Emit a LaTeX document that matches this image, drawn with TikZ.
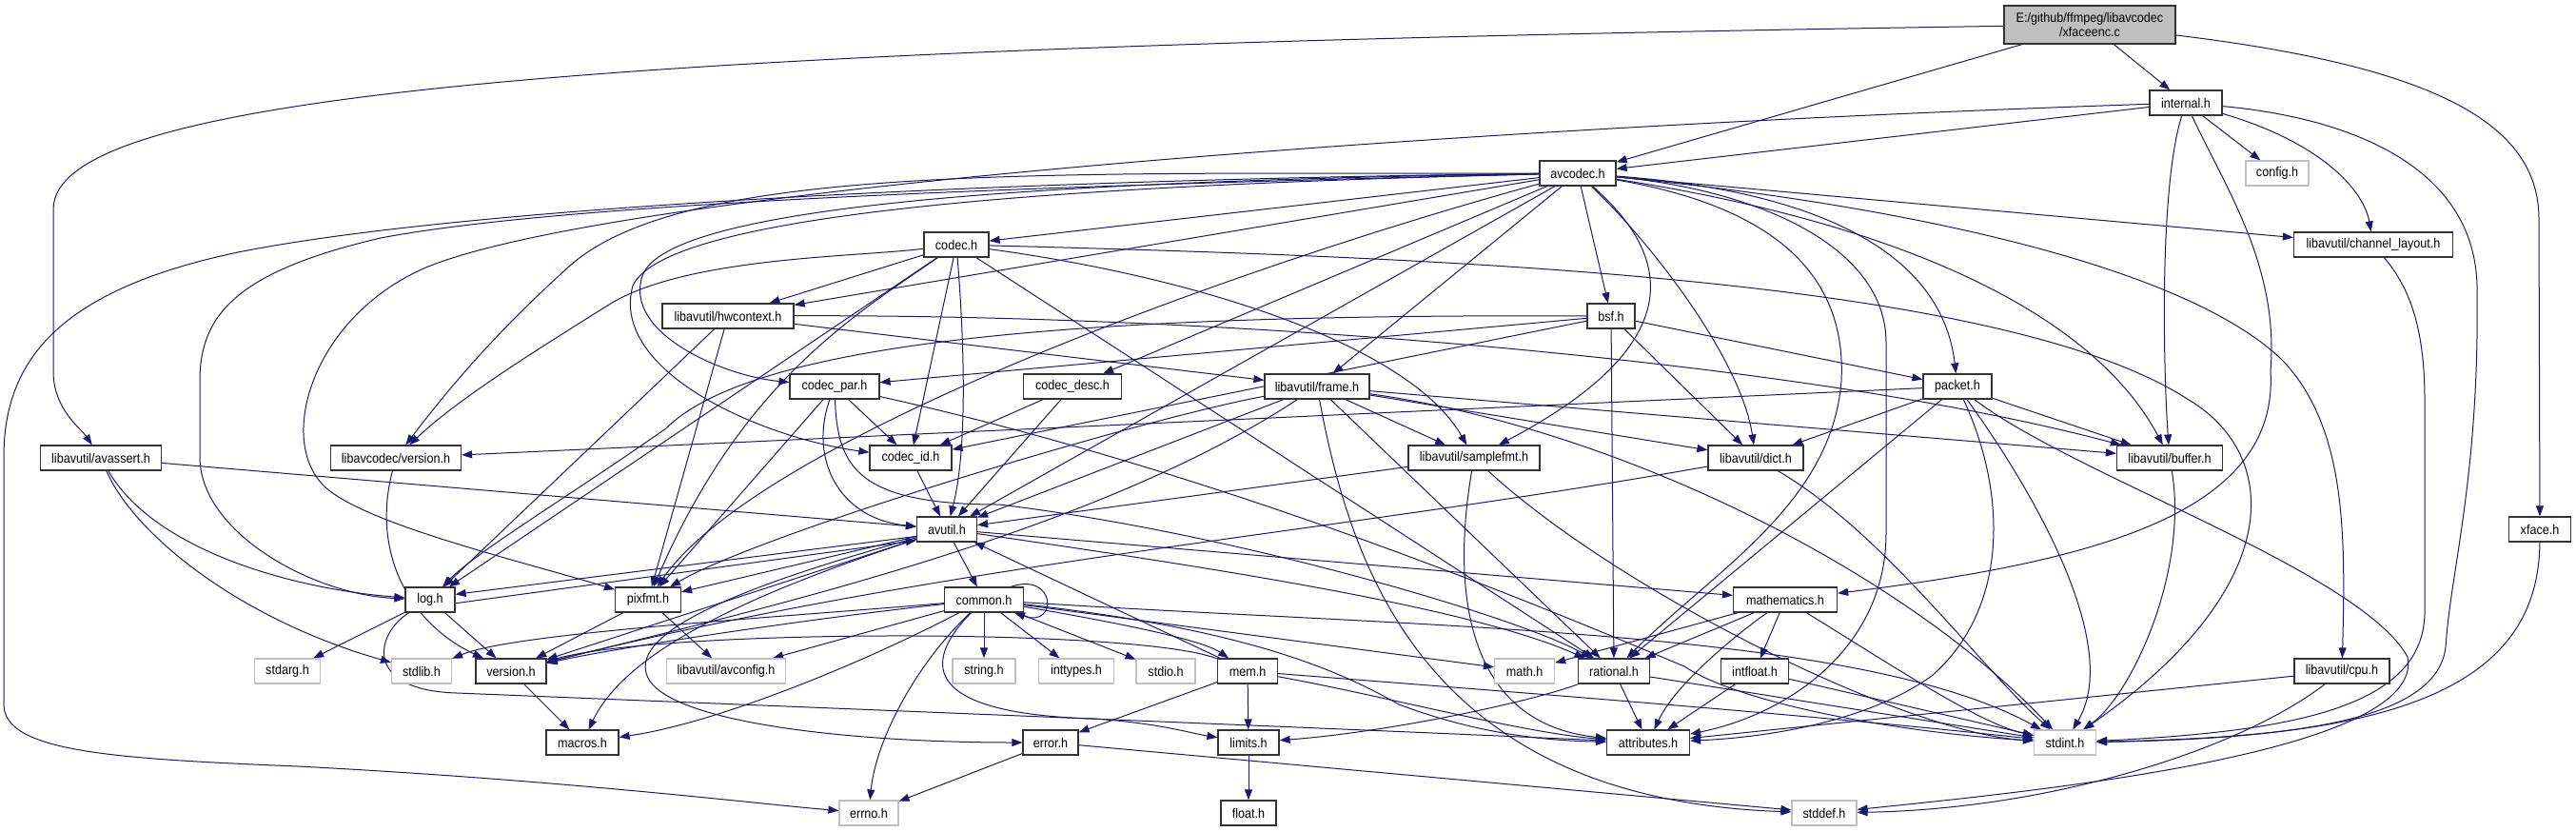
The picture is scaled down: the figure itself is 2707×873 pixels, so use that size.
\documentclass[tikz,border=0pt]{standalone}
\usepackage{fontspec}
\setmainfont{Liberation Sans}[FakeStretch=0.9]
\usetikzlibrary{arrows.meta}
\definecolor{edgecol}{HTML}{191970}
\definecolor{rootfill}{HTML}{BFBFBF}
\newcommand\dxfont{\fontsize{14}{15}\selectfont}
\pgfdeclarelayer{bgfill}
\pgfdeclarelayer{edges}
\pgfsetlayers{bgfill,edges,main}
\begin{document}
\begin{tikzpicture}[x=1pt,y=-1pt,
 nd/.style={draw=black!80,line width=1.2pt,fill=white,minimum height=26pt,inner sep=0pt,font=\dxfont},
 sys/.style={nd,draw=black!25},
 rootnd/.style={nd,fill=rootfill,minimum height=40pt,align=center},
 e/.style={draw=edgecol,line width=1pt,-{Triangle[length=11pt,width=8pt]}}]
\useasboundingbox (0,0) rectangle (2707,873);
\begin{pgfonlayer}{bgfill}
\fill[white] (0,0) rectangle (2707,873);
\end{pgfonlayer}
% nodes
\node[rootnd,minimum width=180pt] (R) at (2196,26) {E:/github/ffmpeg/libavcodec\\/xfaceenc.c};
\node[nd,minimum width=76pt] (internal) at (2297,108) {internal.h};
\node[sys,minimum width=66pt] (config) at (2393,182) {config.h};
\node[nd,minimum width=167pt] (chlayout) at (2494,257) {libavutil/channel\_layout.h};
\node[nd,minimum width=80pt] (avcodec) at (1658,182) {avcodec.h};
\node[nd,minimum width=68pt] (codec) at (1005,257) {codec.h};
\node[nd,minimum width=127pt] (avassert) at (106,481) {libavutil/avassert.h};
\node[nd,minimum width=137pt] (lcversion) at (416,481) {libavcodec/version.h};
\node[nd,minimum width=138pt] (hwcontext) at (765,332) {libavutil/hwcontext.h};
\node[nd,minimum width=94pt] (codecpar) at (877,406) {codec\_par.h};
\node[nd,minimum width=103pt] (codecdesc) at (1127,406) {codec\_desc.h};
\node[nd,minimum width=86pt] (codecid) at (957,481) {codec\_id.h};
\node[nd,minimum width=63pt] (avutil) at (995,556) {avutil.h};
\node[nd,minimum width=50pt] (bsf) at (1693,332) {bsf.h};
\node[nd,minimum width=110pt] (frame) at (1384,406) {libavutil/frame.h};
\node[nd,minimum width=138pt] (samplefmt) at (1549,481) {libavutil/samplefmt.h};
\node[nd,minimum width=100pt] (dict) at (1845,481) {libavutil/dict.h};
\node[nd,minimum width=72pt] (packet) at (2057,406) {packet.h};
\node[nd,minimum width=111pt] (buffer) at (2280,481) {libavutil/buffer.h};
\node[nd,minimum width=65pt] (xface) at (2669,556) {xface.h};
\node[nd,minimum width=52pt] (log) at (452,630) {log.h};
\node[nd,minimum width=69pt] (pixfmt) at (681,630) {pixfmt.h};
\node[sys,minimum width=69pt] (stdarg) at (302,705) {stdarg.h};
\node[sys,minimum width=63pt] (stdlib) at (443,705) {stdlib.h};
\node[nd,minimum width=74pt] (version) at (537,705) {version.h};
\node[nd,minimum width=76pt] (macros) at (612,780) {macros.h};
\node[nd,minimum width=83pt] (common) at (1034,630) {common.h};
\node[sys,minimum width=125pt] (avconfig) at (763,705) {libavutil/avconfig.h};
\node[sys,minimum width=66pt] (string) at (1034,705) {string.h};
\node[sys,minimum width=79pt] (inttypes) at (1131,705) {inttypes.h};
\node[sys,minimum width=62pt] (stdio) at (1225,705) {stdio.h};
\node[nd,minimum width=63pt] (mem) at (1311,705) {mem.h};
\node[nd,minimum width=58pt] (errorh) at (1104,780) {error.h};
\node[nd,minimum width=64pt] (limits) at (1312,780) {limits.h};
\node[sys,minimum width=62pt] (errno) at (913,854) {errno.h};
\node[nd,minimum width=58pt] (float) at (1312,854) {float.h};
\node[nd,minimum width=109pt] (mathematics) at (1876,630) {mathematics.h};
\node[sys,minimum width=63pt] (math) at (1602,705) {math.h};
\node[nd,minimum width=75pt] (rational) at (1696,705) {rational.h};
\node[nd,minimum width=71pt] (intfloat) at (1844,705) {intfloat.h};
\node[nd,minimum width=87pt] (attributes) at (1732,780) {attributes.h};
\node[sys,minimum width=68pt] (stddef) at (1917,854) {stddef.h};
\node[nd,minimum width=100pt] (cpu) at (2461,705) {libavutil/cpu.h};
\node[sys,minimum width=65pt] (stdint) at (2170,780) {stdint.h};
\begin{pgfonlayer}{edges}
% root edges
\draw[e] (R) .. controls (600,50) and (56,100) .. (56,220) -- (56,390) .. controls (56,430) and (85,450) .. (avassert);
\draw[e] (R) -- (avcodec);
\draw[e] (R) -- (internal);
\draw[e] (R) .. controls (2560,70) and (2668,130) .. (2668,230) -- (xface);
% internal
\draw[e] (internal) -- (avcodec);
\draw[e] (internal) .. controls (1500,135) and (650,200) .. (450,280) .. controls (330,330) and (290,460) .. (340,510) .. controls (380,550) and (550,590) .. (pixfmt);
\draw[e] (internal) .. controls (2268,200) and (2274,400) .. (buffer);
\draw[e] (internal) .. controls (2340,200) and (2395,280) .. (2386,390) .. controls (2395,540) and (2200,590) .. (mathematics);
\draw[e] (internal) -- (config);
\draw[e] (internal) .. controls (2440,150) and (2484,200) .. (chlayout);
\draw[e] (internal) .. controls (2480,125) and (2600,180) .. (2603,300) .. controls (2606,500) and (2575,600) .. (2570,680) .. controls (2560,760) and (2400,775) .. (stdint);
% avcodec
\draw[e] (avcodec) .. controls (1100,188) and (500,215) .. (250,265) .. controls (60,305) and (4,380) .. (4,480) -- (4,740) .. controls (4,790) and (120,797) .. (313,805) .. controls (600,820) and (800,845) .. (errno);
\draw[e] (avcodec) .. controls (1770,280) and (1760,370) .. (samplefmt);
\draw[e] (avcodec) .. controls (1850,200) and (1982,260) .. (1982,360) -- (1982,560) .. controls (1982,680) and (1880,750) .. (attributes);
\draw[e] (avcodec) -- (avutil);
\draw[e] (avcodec) .. controls (2000,235) and (2200,330) .. (buffer);
\draw[e] (avcodec) .. controls (2000,215) and (2300,280) .. (2400,380) .. controls (2465,450) and (2465,560) .. (cpu);
\draw[e] (avcodec) -- (chlayout);
\draw[e] (avcodec) .. controls (1740,260) and (1830,380) .. (dict);
\draw[e] (avcodec) -- (frame);
\draw[e] (avcodec) -- (hwcontext);
\draw[e] (avcodec) .. controls (1100,195) and (600,212) .. (400,250) .. controls (250,285) and (210,330) .. (210,400) -- (210,480) .. controls (210,560) and (330,625) .. (log);
\draw[e] (avcodec) .. controls (1300,280) and (800,460) .. (pixfmt);
\draw[e] (avcodec) .. controls (1880,220) and (1940,300) .. (1935,400) .. controls (1925,530) and (1800,600) .. (rational);
\draw[e] (avcodec) -- (bsf);
\draw[e] (avcodec) -- (codec);
\draw[e] (avcodec) -- (codecdesc);
\draw[e] (avcodec) .. controls (1100,190) and (700,215) .. (675,290) .. controls (655,350) and (760,395) .. (codecpar);
\draw[e] (avcodec) .. controls (1100,195) and (700,225) .. (665,300) .. controls (640,390) and (800,460) .. (codecid);
\draw[e] (avcodec) .. controls (1900,200) and (2040,260) .. (packet);
\draw[e] (avcodec) .. controls (1100,183) and (720,170) .. (598,280) .. controls (520,350) and (470,410) .. (lcversion);
% codec
\draw[e] (codec) .. controls (1500,270) and (2100,290) .. (2300,420) .. controls (2400,480) and (2400,620) .. (stdint);
\draw[e] (codec) .. controls (1015,380) and (1015,480) .. (avutil);
\draw[e] (codec) -- (hwcontext);
\draw[e] (codec) -- (log);
\draw[e] (codec) .. controls (900,330) and (780,400) .. (pixfmt);
\draw[e] (codec) -- (rational);
\draw[e] (codec) .. controls (1250,290) and (1480,360) .. (samplefmt);
\draw[e] (codec) -- (codecid);
\draw[e] (codec) .. controls (900,270) and (720,270) .. (640,320) .. controls (560,370) and (480,420) .. (lcversion);
% bsf
\draw[e] (bsf) -- (dict);
\draw[e] (bsf) .. controls (1200,330) and (800,350) .. (700,450) .. controls (600,520) and (500,580) .. (log);
\draw[e] (bsf) -- (rational);
\draw[e] (bsf) -- (codecid);
\draw[e] (bsf) -- (codecpar);
\draw[e] (bsf) -- (packet);
% codec_desc
\draw[e] (codecdesc) -- (avutil);
\draw[e] (codecdesc) -- (codecid);
% codec_par
\draw[e] (codecpar) .. controls (1300,500) and (1650,650) .. (1770,700) .. controls (1830,740) and (2000,770) .. (stdint);
\draw[e] (codecpar) .. controls (850,480) and (880,545) .. (avutil);
\draw[e] (codecpar) .. controls (880,490) and (900,530) .. (1050,530) .. controls (1300,560) and (1600,650) .. (rational);
\draw[e] (codecpar) -- (pixfmt);
\draw[e] (codecpar) -- (codecid);
% codec_id
\draw[e] (codecid) -- (avutil);
% packet
\draw[e] (packet) .. controls (2180,500) and (2480,600) .. (2530,690) .. controls (2550,790) and (2150,830) .. (stddef);
\draw[e] (packet) .. controls (2140,520) and (2230,680) .. (stdint);
\draw[e] (packet) .. controls (2110,520) and (2110,640) .. (2030,710) .. controls (1960,760) and (1850,775) .. (attributes);
\draw[e] (packet) -- (buffer);
\draw[e] (packet) -- (dict);
\draw[e] (packet) -- (rational);
\draw[e] (packet) -- (lcversion);
% hwcontext
\draw[e] (hwcontext) .. controls (1300,330) and (1900,380) .. (buffer);
\draw[e] (hwcontext) -- (frame);
\draw[e] (hwcontext) -- (log);
\draw[e] (hwcontext) -- (pixfmt);
% frame
\draw[e] (frame) .. controls (1420,600) and (1500,840) .. (stddef);
\draw[e] (frame) .. controls (1700,450) and (2000,600) .. (stdint);
\draw[e] (frame) -- (avutil);
\draw[e] (frame) -- (buffer);
\draw[e] (frame) -- (dict);
\draw[e] (frame) -- (rational);
\draw[e] (frame) -- (samplefmt);
\draw[e] (frame) .. controls (1200,440) and (800,560) .. (pixfmt);
\draw[e] (frame) .. controls (1150,560) and (800,640) .. (version);
% samplefmt
\draw[e] (samplefmt) .. controls (1700,620) and (2000,770) .. (stdint);
\draw[e] (samplefmt) -- (avutil);
\draw[e] (samplefmt) .. controls (1525,620) and (1540,760) .. (attributes);
% dict
\draw[e] (dict) .. controls (1980,560) and (2080,700) .. (stdint);
\draw[e] (dict) .. controls (1400,560) and (1000,590) .. (version);
% buffer
\draw[e] (buffer) .. controls (2300,600) and (2240,730) .. (stdint);
% avassert
\draw[e] (avassert) .. controls (140,560) and (250,650) .. (stdlib);
\draw[e] (avassert) -- (avutil);
\draw[e] (avassert) .. controls (160,575) and (300,618) .. (log);
% libavcodec/version.h
\draw[e] (lcversion) .. controls (390,580) and (430,655) .. (version);
% log
\draw[e] (log) -- (stdarg);
\draw[e] (log.-8) -- (avutil.200);
\draw[e] (log) .. controls (395,665) and (380,725) .. (480,728) .. controls (900,745) and (1400,765) .. (attributes);
\draw[e] (log) -- (version);
% pixfmt
\draw[e] (pixfmt) -- (avconfig);
\draw[e] (pixfmt) -- (version);
% version
\draw[e] (version) -- (macros);
% avutil
\draw[e] (avutil) -- (common);
\draw[e] (avutil) .. controls (800,610) and (660,660) .. (680,710) .. controls (700,760) and (900,780) .. (errorh);
\draw[e] (avutil) .. controls (1300,600) and (1550,640) .. (rational);
\draw[e] (avutil) -- (version);
\draw[e] (avutil) .. controls (800,620) and (660,680) .. (macros);
\draw[e] (avutil) -- (mathematics);
\draw[e] (avutil.193) -- (log.12);
\draw[e] (avutil) -- (pixfmt);
% common
\draw[e] ([xshift=28pt]common.north) .. controls (1110,600) and (1112,660) .. ([xshift=32pt]common.south);
\draw[e] (common) .. controls (960,700) and (920,780) .. (errno);
\draw[e] (common) -- (inttypes);
\draw[e] (common) .. controls (965,700) and (975,750) .. (1150,755) .. controls (1220,760) and (1250,770) .. (limits);
\draw[e] (common) -- (math);
\draw[e] (common) -- (stdio);
\draw[e] (common) .. controls (800,650) and (540,665) .. (stdlib);
\draw[e] (common) -- (string);
\draw[e] (common) .. controls (1300,660) and (1400,700) .. (1470,740) .. controls (1550,770) and (1620,778) .. (attributes);
\draw[e] (common) .. controls (900,700) and (750,760) .. (macros);
\draw[e] (common) .. controls (850,650) and (650,680) .. (version);
\draw[e] (common) .. controls (1500,660) and (1950,660) .. (stdint);
\draw[e] (common) -- (avconfig);
\draw[e] (common) .. controls (1150,650) and (1260,670) .. (mem);
% mem
\draw[e] (mem) -- (avutil);
\draw[e] (mem) -- (errorh);
\draw[e] (mem) -- (limits);
\draw[e] (mem) .. controls (1450,730) and (1600,770) .. (attributes);
\draw[e] (mem) .. controls (1500,720) and (1900,750) .. (stdint);
\draw[e] (mem) .. controls (1200,660) and (700,660) .. (version);
% error, limits
\draw[e] (errorh) -- (errno);
\draw[e] (errorh) -- (stddef);
\draw[e] (limits) -- (float);
% rational
\draw[e] (rational) -- (stdint);
\draw[e] (rational) .. controls (1600,740) and (1450,770) .. (limits);
\draw[e] (rational) -- (attributes);
% mathematics
\draw[e] (mathematics) .. controls (1990,700) and (2080,760) .. (stdint);
\draw[e] (mathematics) -- (math);
\draw[e] (mathematics) .. controls (1820,670) and (1760,720) .. (attributes);
\draw[e] (mathematics) -- (rational);
\draw[e] (mathematics) -- (intfloat);
% intfloat
\draw[e] (intfloat) -- (stdint);
\draw[e] (intfloat) -- (attributes);
% cpu
\draw[e] (cpu) -- (attributes);
\draw[e] (cpu) .. controls (2350,790) and (2150,850) .. (stddef);
% channel_layout, xface
\draw[e] (chlayout) .. controls (2530,300) and (2548,340) .. (2548,420) -- (2548,640) .. controls (2550,740) and (2420,768) .. (stdint);
\draw[e] (xface) .. controls (2668,730) and (2500,775) .. (stdint);
\end{pgfonlayer}
\end{tikzpicture}
\end{document}
